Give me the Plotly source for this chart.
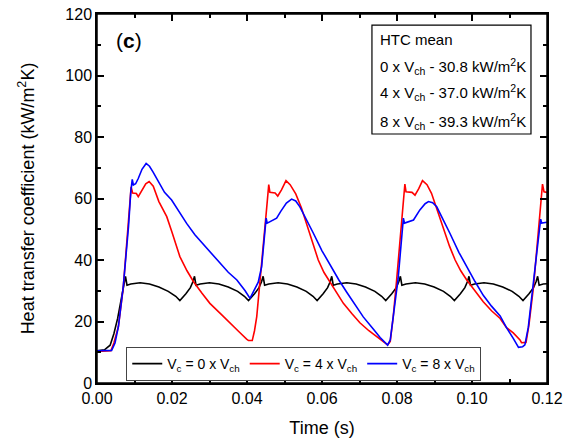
import plotly.graph_objects as go

# ---- data ----
t_black = [0.0, 0.002, 0.0035, 0.0045, 0.0055, 0.0066, 0.0072, 0.0076, 0.0080, 0.0090, 0.0115, 0.0140, 0.0165, 0.0190, 0.0210, 0.0221,
           0.0237, 0.0249, 0.0256, 0.0260, 0.0264, 0.0275, 0.0300, 0.0325, 0.0350, 0.0375, 0.0393, 0.0404,
           0.0420, 0.0432, 0.0439, 0.0443, 0.0447, 0.0458, 0.0483, 0.0508, 0.0533, 0.0558, 0.0576, 0.0587,
           0.0603, 0.0615, 0.0622, 0.0626, 0.0630, 0.0641, 0.0666, 0.0691, 0.0716, 0.0741, 0.0759, 0.0770,
           0.0786, 0.0798, 0.0805, 0.0809, 0.0813, 0.0824, 0.0849, 0.0874, 0.0899, 0.0924, 0.0942, 0.0953,
           0.0969, 0.0981, 0.0988, 0.0992, 0.0996, 0.1007, 0.1032, 0.1057, 0.1082, 0.1107, 0.1125, 0.1136,
           0.1152, 0.1164, 0.1171, 0.1175, 0.1179, 0.1190, 0.1200]
htc_black = [10.5, 10.8, 12.3, 16.0, 21.0, 28.0, 32.0, 34.7, 31.8, 32.2, 32.6, 32.2, 31.2, 29.8, 28.2, 26.8,
             29.0, 31.0, 33.0, 34.7, 31.8, 32.2, 32.6, 32.2, 31.2, 29.8, 28.2, 26.8,
             29.0, 31.0, 33.0, 34.7, 31.8, 32.2, 32.6, 32.2, 31.2, 29.8, 28.2, 26.8,
             29.0, 31.0, 33.0, 34.7, 31.8, 32.2, 32.6, 32.2, 31.2, 29.8, 28.2, 26.8,
             29.0, 31.0, 33.0, 34.7, 31.8, 32.2, 32.6, 32.2, 31.2, 29.8, 28.2, 26.8,
             29.0, 31.0, 33.0, 34.7, 31.8, 32.2, 32.6, 32.2, 31.2, 29.8, 28.2, 26.8,
             29.0, 31.0, 33.0, 34.7, 31.8, 32.2, 32.3]

t_red = [0.0, 0.002, 0.0037, 0.0045, 0.0057, 0.0070, 0.0083, 0.0088, 0.0091, 0.0095, 0.0105, 0.0110, 0.0120, 0.0130, 0.0139,
         0.0150, 0.0165, 0.0186, 0.0200, 0.0221, 0.0240, 0.0257, 0.0280, 0.0301, 0.0330, 0.0355, 0.0380, 0.0399, 0.0404,
         0.0414, 0.0420, 0.0426, 0.0439, 0.0452, 0.0458, 0.0461, 0.0475, 0.0482, 0.0492, 0.0504, 0.0515, 0.0530, 0.0545,
         0.0559, 0.0575, 0.0590, 0.0605, 0.0621, 0.0640, 0.0657, 0.0680, 0.0701, 0.0725, 0.0746, 0.0765, 0.0775, 0.0782,
         0.0790, 0.0799, 0.0812, 0.0821, 0.0824, 0.0840, 0.0848, 0.0858, 0.0868, 0.0880, 0.0892, 0.0908, 0.0924, 0.0940,
         0.0955, 0.0970, 0.0986, 0.1008, 0.1030, 0.1052, 0.1075, 0.1092, 0.1110, 0.1128, 0.1132, 0.1144, 0.1152, 0.1164,
         0.1172, 0.1181, 0.1188, 0.1192, 0.1200]
htc_red = [10.3, 10.3, 10.5, 13.0, 18.3, 31.0, 50.0, 60.0, 63.8, 61.8, 61.6, 60.6, 62.5, 64.8, 65.5,
           64.0, 59.0, 54.1, 49.0, 41.1, 36.5, 33.0, 29.2, 25.9, 22.5, 19.4, 16.5, 14.3, 13.8,
           13.8, 17.0, 21.6, 37.8, 56.3, 64.5, 62.0, 61.8, 60.8, 62.8, 65.8, 64.5, 61.5, 57.0,
           51.9, 45.5, 40.0, 36.0, 33.0, 29.2, 25.9, 22.5, 19.6, 17.0, 15.1, 13.3, 12.4, 13.5,
           21.6, 33.5, 53.0, 64.7, 62.2, 62.0, 61.1, 63.2, 65.8, 64.5, 61.7, 56.0, 49.8, 44.5,
           40.0, 36.5, 33.5, 29.8, 26.4, 23.5, 21.0, 18.0, 16.3, 14.0, 13.1, 13.2, 19.0, 31.3,
           42.0, 56.3, 64.7, 62.2, 62.0]

t_blue = [0.0, 0.002, 0.0039, 0.0048, 0.0057, 0.0070, 0.0084, 0.0090, 0.0094, 0.0097, 0.0103, 0.0110, 0.0120, 0.0131,
          0.0140, 0.0150, 0.0165, 0.0180, 0.0199, 0.0220, 0.0239, 0.0261, 0.0284, 0.0305, 0.0328, 0.0350, 0.0373, 0.0395,
          0.0408, 0.0420, 0.0430, 0.0439, 0.0448, 0.0451, 0.0454, 0.0465, 0.0479, 0.0490, 0.0505, 0.0519, 0.0530, 0.0541,
          0.0560, 0.0577, 0.0600, 0.0621, 0.0645, 0.0666, 0.0690, 0.0710, 0.0735, 0.0755, 0.0775, 0.0782, 0.0790, 0.0803,
          0.0815, 0.0817, 0.0820, 0.0844, 0.0861, 0.0875, 0.0884, 0.0895, 0.0906, 0.0920, 0.0941, 0.0965, 0.0986, 0.1008,
          0.1030, 0.1052, 0.1075, 0.1092, 0.1110, 0.1124, 0.1135, 0.1141, 0.1150, 0.1164, 0.1176, 0.1181, 0.1183, 0.1186,
          0.1200]
htc_blue = [10.5, 10.5, 10.6, 13.0, 18.3, 31.3, 50.8, 62.0, 66.2, 64.4, 64.8, 66.5, 69.5, 71.4,
            70.5, 68.5, 65.0, 62.0, 59.5, 55.5, 51.9, 48.2, 45.0, 42.0, 38.9, 36.0, 33.5, 30.0,
            27.5, 30.2, 32.8, 37.8, 51.9, 53.6, 52.0, 52.8, 53.6, 55.8, 58.5, 59.8, 59.2, 57.3,
            53.0, 48.7, 43.0, 38.5, 33.5, 29.5, 25.0, 21.5, 17.8, 14.8, 12.3, 14.0, 21.6, 34.0,
            50.8, 53.6, 52.0, 53.0, 56.3, 58.3, 59.0, 58.6, 57.3, 54.0, 48.7, 42.5, 37.8, 33.0,
            28.5, 25.0, 21.8, 18.0, 14.5, 11.6, 11.8, 12.4, 18.0, 33.0, 46.0, 50.8, 53.3, 52.0,
            52.3]

series_names = ["V<sub>c</sub> = 0 x V<sub>ch</sub>",
                "V<sub>c</sub> = 4 x V<sub>ch</sub>",
                "V<sub>c</sub> = 8 x V<sub>ch</sub>"]
mean_lines = ["HTC mean",
              "0 x V<sub>ch</sub> - 30.8 kW/m<sup>2</sup>K",
              "4 x V<sub>ch</sub> - 37.0 kW/m<sup>2</sup>K",
              "8 x V<sub>ch</sub> - 39.3 kW/m<sup>2</sup>K"]
x_ticks = [0.00, 0.02, 0.04, 0.06, 0.08, 0.10, 0.12]
y_ticks = [0, 20, 40, 60, 80, 100, 120]
x_range = [0, 0.12]
y_range = [0, 120]

FONT = "Liberation Sans, Arial, sans-serif"

fig = go.Figure()
for tt, vv, name, col in [(t_black, htc_black, series_names[0], "black"),
                          (t_red, htc_red, series_names[1], "red"),
                          (t_blue, htc_blue, series_names[2], "blue")]:
    fig.add_trace(go.Scatter(x=tt, y=vv, mode="lines", name=name,
                             line=dict(color=col, width=1.6)))

axis_common = dict(showline=True, linecolor="black", linewidth=1.5, mirror="allticks",
                   ticks="inside", ticklen=7, tickwidth=1.5, tickcolor="black",
                   showgrid=False, zeroline=False, automargin=False,
                   tickfont=dict(family=FONT, size=16, color="black"))

fig.update_layout(
    width=563, height=445,
    margin=dict(l=97, r=16, t=14, b=62),
    paper_bgcolor="white", plot_bgcolor="white",
    font=dict(family=FONT, color="black"),
    xaxis=dict(range=x_range, tickvals=x_ticks, tickformat=".2f",
               minor=dict(dtick=0.01, ticks="inside", ticklen=4, tickcolor="black", tickwidth=1.5),
               title=dict(text="Time (s)", font=dict(family=FONT, size=18), standoff=15),
               **axis_common),
    yaxis=dict(range=y_range, tickvals=y_ticks,
               minor=dict(dtick=10, ticks="inside", ticklen=4, tickcolor="black", tickwidth=1.5),
               title=dict(text="Heat transfer coefficient (kW/m<sup>2</sup>K)", font=dict(family=FONT, size=18), standoff=26),
               **axis_common),
    legend=dict(orientation="h", x=0.065, y=0.0976, xanchor="left", yanchor="top",
                bgcolor="white", bordercolor="#444", borderwidth=1,
                font=dict(family=FONT, size=14, color="black"),
                itemwidth=30, tracegroupgap=0),
    showlegend=True,
)

# plot frame
fig.add_shape(type="rect", xref="paper", yref="paper", x0=0, x1=1, y0=0, y1=1,
              line=dict(color="black", width=1.5), fillcolor="rgba(0,0,0,0)", layer="above")

# (c) label
fig.add_annotation(x=0.071, y=0.9295, xref="paper", yref="paper", text="(<b>c</b>)",
                   xanchor="center", yanchor="middle",
                   showarrow=False, font=dict(family=FONT, size=21, color="black"))

# mean HTC box
fig.add_shape(type="rect", xref="paper", yref="paper", x0=0.611, x1=0.9644, y0=0.6748, y1=0.970,
              line=dict(color="black", width=1.2), fillcolor="rgba(0,0,0,0)")
for txt, yy in zip(mean_lines, [0.932, 0.859, 0.786, 0.710]):
    fig.add_annotation(x=0.6244, y=yy, xref="paper", yref="paper", text=txt, xanchor="left",
                       yanchor="middle", showarrow=False,
                       font=dict(family=FONT, size=15, color="black"))

fig.write_html("out.html", config={"displayModeBar": False},
               post_script="document.body.style.margin='0';")
